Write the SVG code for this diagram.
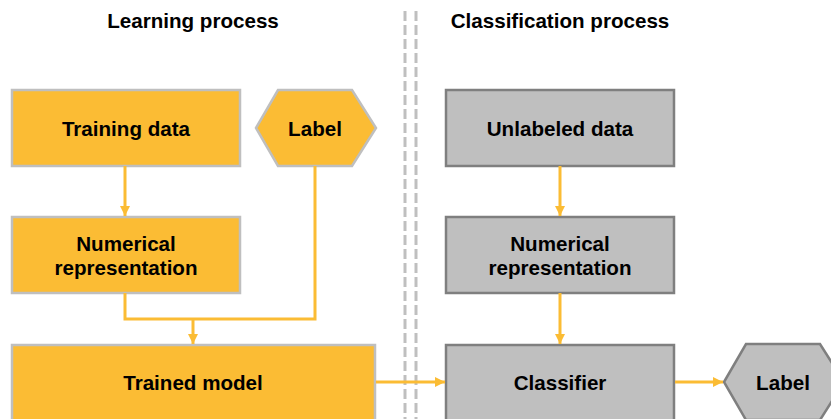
<svg xmlns="http://www.w3.org/2000/svg" width="831" height="419" viewBox="0 0 831 419">
  <defs>
    <marker id="arrow" viewBox="0 0 10 10" refX="10" refY="5" markerWidth="10" markerHeight="10" markerUnits="userSpaceOnUse" orient="auto">
      <path d="M0,0 L10,5 L0,10 Z" fill="#fbbc34"/>
    </marker>
    <style>
      .title { font-family: "Liberation Sans", Arial, sans-serif; font-weight: bold; font-size: 20.6px; fill: #000; text-anchor: middle; }
      .lbl { font-family: "Liberation Sans", Arial, sans-serif; font-weight: bold; font-size: 20.6px; fill: #000; text-anchor: middle; }
      .learn { fill: #fbbc34; stroke: #bfbfbf; stroke-width: 2.5; }
      .classify { fill: #bfbfbf; stroke: #7f7f7f; stroke-width: 2.5; }
      .link { fill: none; stroke: #fbbc34; stroke-width: 3; }
      .divider { stroke: #bfbfbf; stroke-width: 3; stroke-dasharray: 10 4; }
    </style>
  </defs>

  <rect width="831" height="419" fill="#ffffff"/>

  <!-- column headings -->
  <text class="title" x="193" y="28">Learning process</text>
  <text class="title" x="560" y="28">Classification process</text>

  <!-- double dashed separator -->
  <line class="divider" x1="405" y1="11" x2="405" y2="419"/>
  <line class="divider" x1="416" y1="11" x2="416" y2="419"/>

  <!-- learning side -->
  <g id="training-data">
    <rect class="learn" x="12" y="90" width="228" height="76"/>
    <text class="lbl" x="126" y="136">Training data</text>
  </g>
  <g id="label-in">
    <polygon class="learn" points="256,128 278,90 352,90 376,128 352,166 278,166"/>
    <text class="lbl" x="315" y="136">Label</text>
  </g>
  <g id="numerical-learn">
    <rect class="learn" x="12" y="217" width="228" height="76"/>
    <text class="lbl" x="126" y="251">Numerical</text>
    <text class="lbl" x="126" y="275">representation</text>
  </g>
  <g id="trained-model">
    <rect class="learn" x="12" y="345" width="363" height="80"/>
    <text class="lbl" x="193" y="390">Trained model</text>
  </g>

  <!-- classification side -->
  <g id="unlabeled-data">
    <rect class="classify" x="446" y="90" width="228" height="76"/>
    <text class="lbl" x="560" y="136">Unlabeled data</text>
  </g>
  <g id="numerical-classify">
    <rect class="classify" x="446" y="217" width="228" height="76"/>
    <text class="lbl" x="560" y="251">Numerical</text>
    <text class="lbl" x="560" y="275">representation</text>
  </g>
  <g id="classifier">
    <rect class="classify" x="446" y="345" width="228" height="80"/>
    <text class="lbl" x="560" y="390">Classifier</text>
  </g>
  <g id="label-out">
    <polygon class="classify" points="724,382 746,344 820,344 844,382 820,420 746,420"/>
    <text class="lbl" x="783" y="390">Label</text>
  </g>

  <!-- connectors -->
  <g id="connectors">
    <line class="link" x1="125" y1="166" x2="125" y2="216" marker-end="url(#arrow)"/>
    <polyline class="link" points="125,293 125,319 315,319 315,166"/>
    <line class="link" x1="193" y1="319" x2="193" y2="344" marker-end="url(#arrow)"/>
    <line class="link" x1="560" y1="166" x2="560" y2="216" marker-end="url(#arrow)"/>
    <line class="link" x1="560" y1="293" x2="560" y2="344" marker-end="url(#arrow)"/>
    <line class="link" x1="376" y1="382" x2="445" y2="382" marker-end="url(#arrow)"/>
    <line class="link" x1="675" y1="382" x2="723" y2="382" marker-end="url(#arrow)"/>
  </g>
</svg>
